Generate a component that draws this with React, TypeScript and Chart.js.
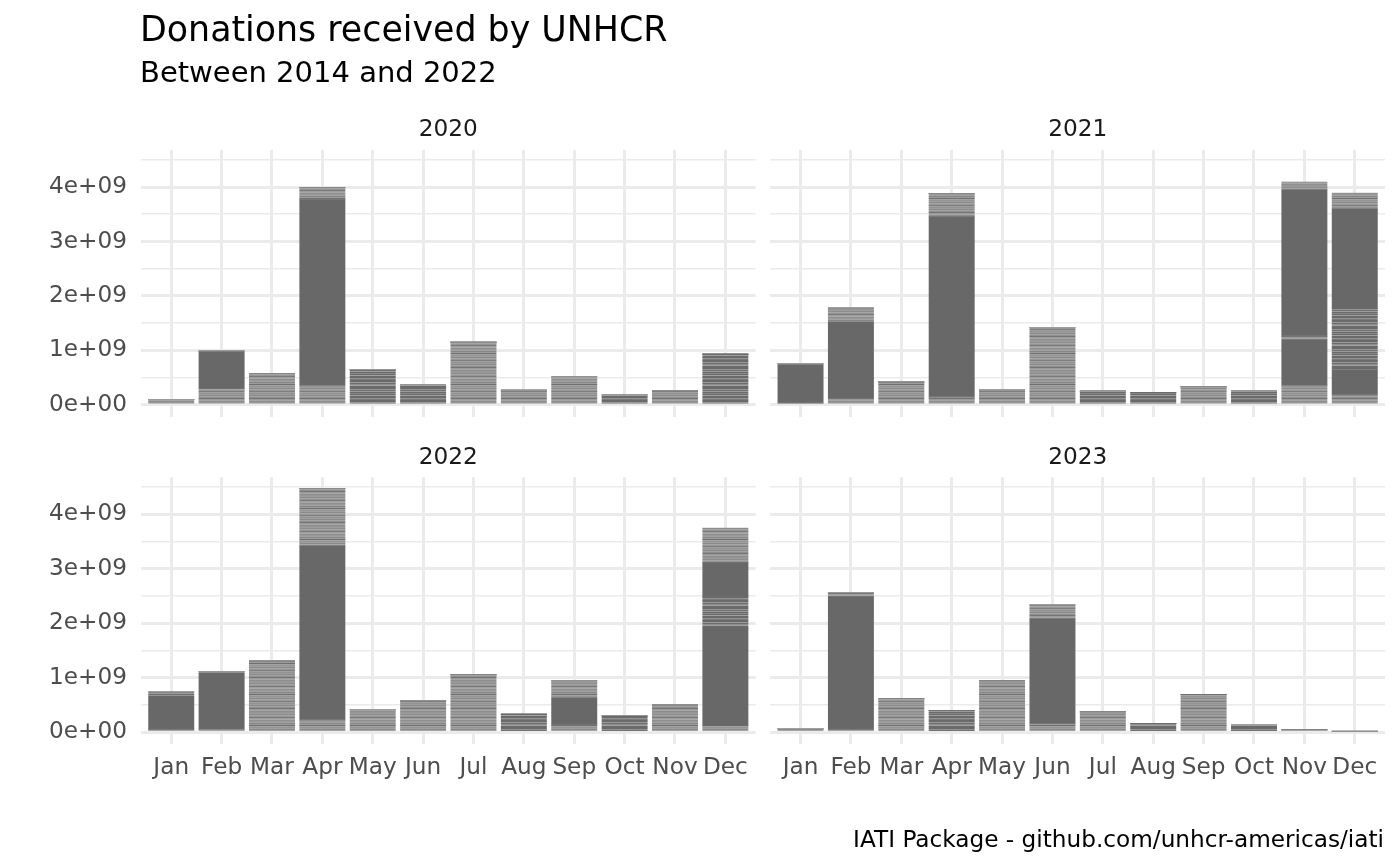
import React, { useEffect, useRef } from "react";
import { Chart, registerables } from "chart.js";

Chart.register(...registerables);

// ---------- data ----------
const MONTHS = ["Jan", "Feb", "Mar", "Apr", "May", "Jun", "Jul", "Aug", "Sep", "Oct", "Nov", "Dec"];
const YEARS = ["2020", "2021", "2022", "2023"];
const Y_TICKS = [0, 0.5e9, 1e9, 1.5e9, 2e9, 2.5e9, 3e9, 3.5e9, 4e9, 4.5e9];

// stacked layers, bottom to top: many small donations (striped) / large donations (solid)
const small1_2020 = [0.10e9, 0.29e9, 0.57e9, 0.35e9, 0.65e9, 0.36e9, 1.15e9, 0.27e9, 0.51e9, 0.18e9, 0.26e9, 0.93e9];
const large1_2020 = [0, 0.68e9, 0, 3.42e9, 0, 0, 0, 0, 0, 0, 0, 0];
const small2_2020 = [0, 0.02e9, 0, 0.22e9, 0, 0, 0, 0, 0, 0, 0, 0];
const large2_2020 = [0, 0, 0, 0, 0, 0, 0, 0, 0, 0, 0, 0];
const small3_2020 = [0, 0, 0, 0, 0, 0, 0, 0, 0, 0, 0, 0];

const small1_2021 = [0.03e9, 0.12e9, 0.42e9, 0.14e9, 0.28e9, 1.42e9, 0.25e9, 0.23e9, 0.33e9, 0.25e9, 0.35e9, 0.18e9];
const large1_2021 = [0.70e9, 1.40e9, 0, 3.32e9, 0, 0, 0, 0, 0, 0, 0.85e9, 0.46e9];
const small2_2021 = [0.03e9, 0.26e9, 0, 0.42e9, 0, 0, 0, 0, 0, 0, 0.06e9, 1.13e9];
const large2_2021 = [0, 0, 0, 0, 0, 0, 0, 0, 0, 0, 2.69e9, 1.83e9];
const small3_2021 = [0, 0, 0, 0, 0, 0, 0, 0, 0, 0, 0.14e9, 0.29e9];

const small1_2022 = [0.04e9, 0.05e9, 1.31e9, 0.22e9, 0.42e9, 0.58e9, 1.05e9, 0.33e9, 0.13e9, 0.30e9, 0.50e9, 0.11e9];
const large1_2022 = [0.62e9, 1.03e9, 0, 3.20e9, 0, 0, 0, 0, 0.50e9, 0, 0, 1.80e9];
const small2_2022 = [0.08e9, 0.03e9, 0, 1.06e9, 0, 0, 0, 0, 0.31e9, 0, 0, 0.58e9];
const large2_2022 = [0, 0, 0, 0, 0, 0, 0, 0, 0, 0, 0, 0.62e9];
const small3_2022 = [0, 0, 0, 0, 0, 0, 0, 0, 0, 0, 0, 0.64e9];

const small1_2023 = [0.07e9, 0.04e9, 0.61e9, 0.40e9, 0.94e9, 0.15e9, 0.37e9, 0.16e9, 0.69e9, 0.13e9, 0.04e9, 0.01e9];
const large1_2023 = [0, 2.45e9, 0, 0, 0, 1.93e9, 0, 0, 0, 0, 0, 0];
const small2_2023 = [0, 0.07e9, 0, 0, 0, 0.26e9, 0, 0, 0, 0, 0, 0];
const large2_2023 = [0, 0, 0, 0, 0, 0, 0, 0, 0, 0, 0, 0];
const small3_2023 = [0, 0, 0, 0, 0, 0, 0, 0, 0, 0, 0, 0];

const LAYERS_BY_YEAR = [
  [small1_2020, large1_2020, small2_2020, large2_2020, small3_2020],
  [small1_2021, large1_2021, small2_2021, large2_2021, small3_2021],
  [small1_2022, large1_2022, small2_2022, large2_2022, small3_2022],
  [small1_2023, large1_2023, small2_2023, large2_2023, small3_2023],
];

const TITLE = "Donations received by UNHCR";
const SUBTITLE = "Between 2014 and 2022";
const CAPTION = "IATI Package - github.com/unhcr-americas/iati";

// ---------- layout / style ----------
const W = 1400;
const H = 865;
const FONT = "'DejaVu Sans', 'Liberation Sans', sans-serif";
const Y_AXIS_W = 130;
const X_AXIS_H = 60;
const AREAS = [
  { left: 141, top: 149.9, right: 755.6, bottom: 416.9, showX: false, showY: true },
  { left: 770.3, top: 149.9, right: 1385, bottom: 416.9, showX: false, showY: false },
  { left: 141, top: 477.2, right: 755.6, bottom: 744.2, showX: true, showY: true },
  { left: 770.3, top: 477.2, right: 1385, bottom: 744.2, showX: true, showY: false },
];
// striped segments that look darker (many mid-size donations): "panel-layer-month"
const DENSE_STRIPES = new Set([
  "0-0-4", "0-0-5", "0-0-11", "0-0-9",
  "1-2-11", "1-0-7", "1-0-9", "1-0-6",
  "2-0-9", "2-0-7", "2-2-11",
  "3-0-3", "3-0-7", "3-0-9",
]);
const DARK = "#686868";
const STRIPES = [
  "#9b9b9b", "#8d8d8d", "#a4a4a4", "#959595", "#7a7a7a", "#9e9e9e", "#a8a8a8", "#8f8f8f",
  "#999999", "#a1a1a1", "#868686", "#9c9c9c", "#6f6f6f", "#a3a3a3", "#949494", "#9f9f9f",
  "#8a8a8a", "#a6a6a6", "#979797", "#7e7e7e", "#a0a0a0", "#929292", "#9d9d9d", "#8b8b8b",
  "#a2a2a2", "#909090", "#747474", "#9a9a9a", "#a5a5a5", "#8e8e8e", "#969696",
];
const STRIPES_DENSE = [
  "#6a6a6a", "#6a6a6a", "#9a9a9a", "#6c6c6c", "#8e8e8e", "#a0a0a0", "#6a6a6a", "#6a6a6a",
  "#6a6a6a", "#959595", "#707070", "#9c9c9c", "#6a6a6a", "#888888", "#6a6a6a", "#a2a2a2",
  "#6a6a6a", "#6a6a6a", "#939393", "#7a7a7a",
];

function makePattern(ctx: CanvasRenderingContext2D, rows: string[]) {
  const c = document.createElement("canvas");
  c.width = 8;
  c.height = rows.length;
  const g = c.getContext("2d")!;
  rows.forEach((col, i) => {
    g.fillStyle = col;
    g.fillRect(0, i, 8, 1);
  });
  return ctx.createPattern(c, "repeat")!;
}

function fmt(v: number) {
  if (v === 0) return "0e+00";
  return `${Math.round(v / 1e9)}e+09`;
}

export default function App() {
  const refs = [useRef<HTMLCanvasElement>(null), useRef<HTMLCanvasElement>(null), useRef<HTMLCanvasElement>(null), useRef<HTMLCanvasElement>(null)];

  useEffect(() => {
    const charts: Chart[] = [];
    refs.forEach((r, p) => {
      const canvas = r.current!;
      const ctx = canvas.getContext("2d")!;
      const light = makePattern(ctx, STRIPES);
      const dense = makePattern(ctx, STRIPES_DENSE);
      const area = AREAS[p];
      const datasets = LAYERS_BY_YEAR[p].map((arr, i) => ({
        label: i % 2 === 0 ? "small donations" : "large donations",
        data: arr.map((v, j) => ({ x: j + 1, y: v })),
        backgroundColor:
          i % 2 === 0
            ? (c: any) => (DENSE_STRIPES.has(`${p}-${i}-${c.dataIndex}`) ? dense : light)
            : DARK,
        borderWidth: 0,
        barThickness: 45.3,
      }));
      const chart = new Chart(canvas, {
        type: "bar",
        data: { datasets } as any,
        options: {
          animation: false,
          responsive: false,
          devicePixelRatio: 1,
          layout: {
            padding: {
              left: area.left - Y_AXIS_W,
              top: area.top,
              right: W - area.right,
              bottom: H - area.bottom - X_AXIS_H,
            },
          },
          plugins: { legend: { display: false }, tooltip: { enabled: false }, title: { display: false } },
          scales: {
            x: {
              type: "linear",
              stacked: true,
              offset: false,
              min: 0.4,
              max: 12.6,
              afterBuildTicks: (s: any) => {
                s.ticks = MONTHS.map((_, i) => ({ value: i + 1 }));
              },
              afterFit: (s: any) => {
                s.height = X_AXIS_H;
              },
              grid: { color: "#EBEBEB", lineWidth: 3, drawTicks: false, offset: false },
              border: { display: false },
              ticks: {
                display: area.showX,
                autoSkip: false,
                maxRotation: 0,
                minRotation: 0,
                padding: 10,
                color: "#4D4D4D",
                font: { family: FONT, size: 23.2 },
                callback: (v: any) => MONTHS[Math.round(v) - 1] ?? "",
              },
            },
            y: {
              type: "linear",
              stacked: true,
              min: -0.223e9,
              max: 4.683e9,
              afterBuildTicks: (s: any) => {
                s.ticks = Y_TICKS.map((v) => ({ value: v }));
              },
              afterFit: (s: any) => {
                s.width = Y_AXIS_W;
              },
              grid: {
                color: "#EBEBEB",
                lineWidth: (c: any) => (c.tick && c.tick.value % 1e9 === 0 ? 3 : 1.6),
                drawTicks: false,
              },
              border: { display: false },
              ticks: {
                display: area.showY,
                autoSkip: false,
                padding: 14,
                color: "#4D4D4D",
                font: { family: FONT, size: 23.2 },
                callback: (v: any) => (v % 1e9 === 0 ? fmt(v) : ""),
              },
            },
          },
        } as any,
      });
      charts.push(chart);
    });
    return () => charts.forEach((c) => c.destroy());
  }, []);

  const abs = (extra: React.CSSProperties): React.CSSProperties => ({
    position: "absolute",
    fontFamily: FONT,
    lineHeight: 1,
    whiteSpace: "nowrap",
    margin: 0,
    ...extra,
  });

  return (
    <div style={{ position: "absolute", left: 0, top: 0, width: W, height: H, background: "#fff", overflow: "hidden" }}>
      {refs.map((r, i) => (
        <canvas key={i} ref={r} width={W} height={H} style={{ position: "absolute", left: 0, top: 0, width: W, height: H }} />
      ))}
      <div style={abs({ left: 140, top: 11.5, fontSize: 34.8, color: "#000" })}>{TITLE}</div>
      <div style={abs({ left: 140, top: 57.5, fontSize: 29, color: "#000" })}>{SUBTITLE}</div>
      {YEARS.map((y, i) => {
        const a = AREAS[i];
        const top = i < 2 ? 116.4 : 443.7;
        return (
          <div key={y} style={abs({ left: a.left, width: a.right - a.left, top, textAlign: "center", fontSize: 23.2, color: "#1A1A1A" })}>
            {y}
          </div>
        );
      })}
      <div style={abs({ right: 16, top: 827, fontSize: 23.2, color: "#000" })}>{CAPTION}</div>
    </div>
  );
}
